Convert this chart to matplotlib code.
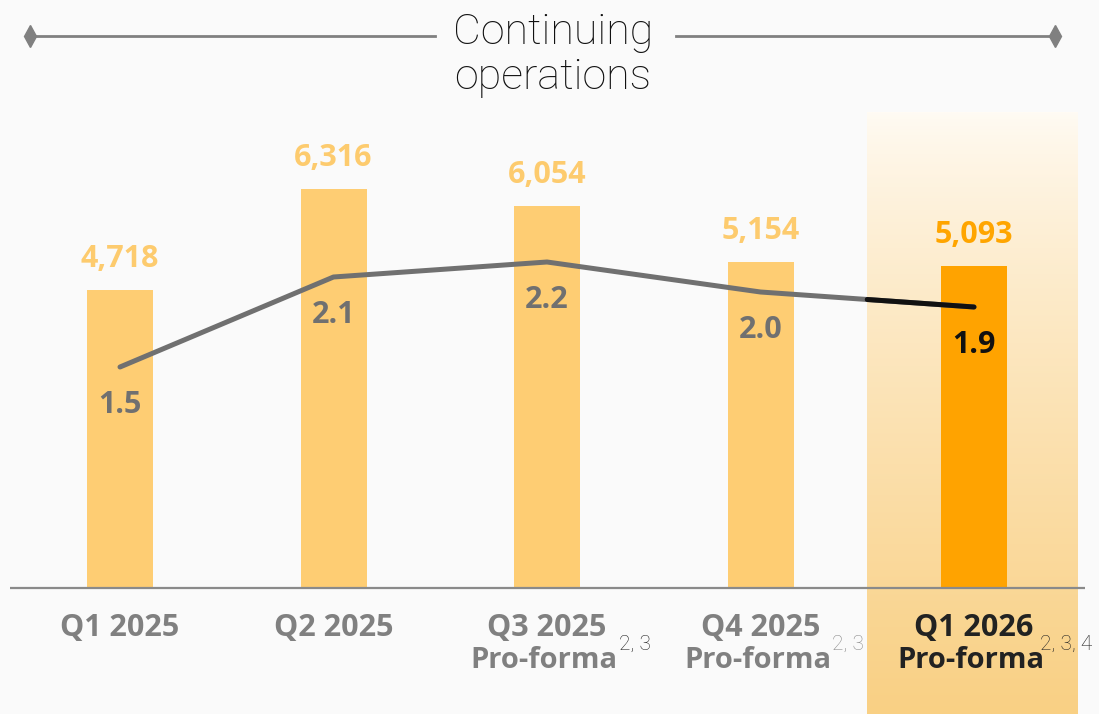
import matplotlib
matplotlib.use('Agg')
import matplotlib.pyplot as plt
from matplotlib.lines import Line2D
import numpy as np

plt.rcParams['font.family'] = ['Open Sans', 'DejaVu Sans']

quarters = ['Q1 2025', 'Q2 2025', 'Q3 2025', 'Q4 2025', 'Q1 2026']
second_line = ['', '', 'Pro-forma', 'Pro-forma', 'Pro-forma']
footnotes = ['', '', '2, 3', '2, 3', '2, 3, 4']
bar_values = [4718, 6316, 6054, 5154, 5093]
line_values = [1.5, 2.1, 2.2, 2.0, 1.9]

W, H = 1099, 714
fig = plt.figure(figsize=(W / 100, H / 100), dpi=100)
fig.patch.set_facecolor('#fafafa')

# axes over the whole figure, scaled so that category spacing / bar scale match the slide
ax = fig.add_axes([0, 0, 1, 1])
x = np.arange(len(quarters))
x0, step = 120, 213.5
ax.set_xlim(-x0 / step, (W - x0) / step)
base = 126
upp = 4718 / 298.0
ax.set_ylim(-base * upp, (H - base) * upp)
ax.axis('off')

# highlight for the last quarter
grad = np.linspace(0, 1, 256)[:, None]
c_top = np.array([255, 251, 244]) / 255
c_bot = np.array([249, 208, 132]) / 255
img = c_top[None, None, :] * (1 - grad[..., None] ** 0.8) + c_bot[None, None, :] * grad[..., None] ** 0.8
ax.imshow(img, extent=(3.5, 4.487, -base * upp, 476 * upp), origin='upper',
          aspect='auto', zorder=1)

light, dark = '#fecd73', '#ffa300'
bar_colors = [light] * 4 + [dark]
ax.bar(x, bar_values, width=66 / step, color=bar_colors, zorder=2)
ax.hlines(0, -0.515, 4.52, color='#8a8a8a', lw=1.6, zorder=3)

label_colors = ['#fdcb6e'] * 4 + ['#ffa500']
for i, v in enumerate(bar_values):
    ax.annotate(f'{v:,}', (i, v), xytext=(0, 31 * 0.72), textcoords='offset points',
                ha='center', va='center', fontsize=22, fontweight='bold',
                color=label_colors[i], zorder=5)

tick_colors = ['#808080'] * 4 + ['#222222']
note_colors = ['#222222', '#222222', '#222222', '#8a8a8a', '#222222']
for i, q in enumerate(quarters):
    ax.annotate(q, (i, 0), xytext=(0, -40 * 0.72), textcoords='offset points',
                ha='center', va='center', fontsize=22, fontweight='bold',
                color=tick_colors[i], annotation_clip=False)
    if second_line[i]:
        ax.annotate(second_line[i], (i, 0), xytext=(-3 * 0.72, -73 * 0.72),
                    textcoords='offset points', ha='center', va='center',
                    fontsize=21, fontweight='bold', color=tick_colors[i],
                    annotation_clip=False)
    if footnotes[i]:
        dx = 72 if i < len(quarters) - 1 else 66
        ax.annotate(footnotes[i], (i, 0), xytext=(dx * 0.72, -56 * 0.72),
                    textcoords='offset points', ha='left', va='center',
                    fontsize=15, fontweight='light', color=note_colors[i],
                    family=['Roboto', 'DejaVu Sans'], annotation_clip=False)

# secondary scale for the line
ax2 = ax.twinx()
ax2.set_ylim(-122 / 150.0, (H - 122) / 150.0)
ax2.axis('off')
ax2.plot(x, line_values, color='#707070', lw=3.6, solid_capstyle='round',
         solid_joinstyle='round', zorder=4)
mid = (line_values[3] + line_values[4]) / 2
ax2.plot([3.5, 4], [mid, line_values[4]], color='#111111', lw=3.6,
         solid_capstyle='round', zorder=5)

line_label_colors = ['#707070'] * 4 + ['#111111']
for i, v in enumerate(line_values):
    ax2.annotate(f'{v:.1f}', (i, v), xytext=(0, -38 * 0.72), textcoords='offset points',
                 ha='center', va='center', fontsize=22, fontweight='bold',
                 color=line_label_colors[i])

# title with decorative rules
fig.text(553 / W, 1 - 55 / H, 'Continuing\noperations', ha='center', va='center',
         fontsize=31, fontweight='light', color='#111111', linespacing=1.15,
         family=['Roboto', 'DejaVu Sans'])
fig.add_artist(Line2D([30 / W, 435 / W], [1 - 36 / H] * 2, transform=fig.transFigure,
                      color='#808080', lw=2, marker='d', markersize=11, markevery=[0]))
fig.add_artist(Line2D([676 / W, 1055 / W], [1 - 36 / H] * 2, transform=fig.transFigure,
                      color='#808080', lw=2, marker='d', markersize=11, markevery=[1]))

fig.savefig('out.png', dpi=100, facecolor=fig.get_facecolor())
